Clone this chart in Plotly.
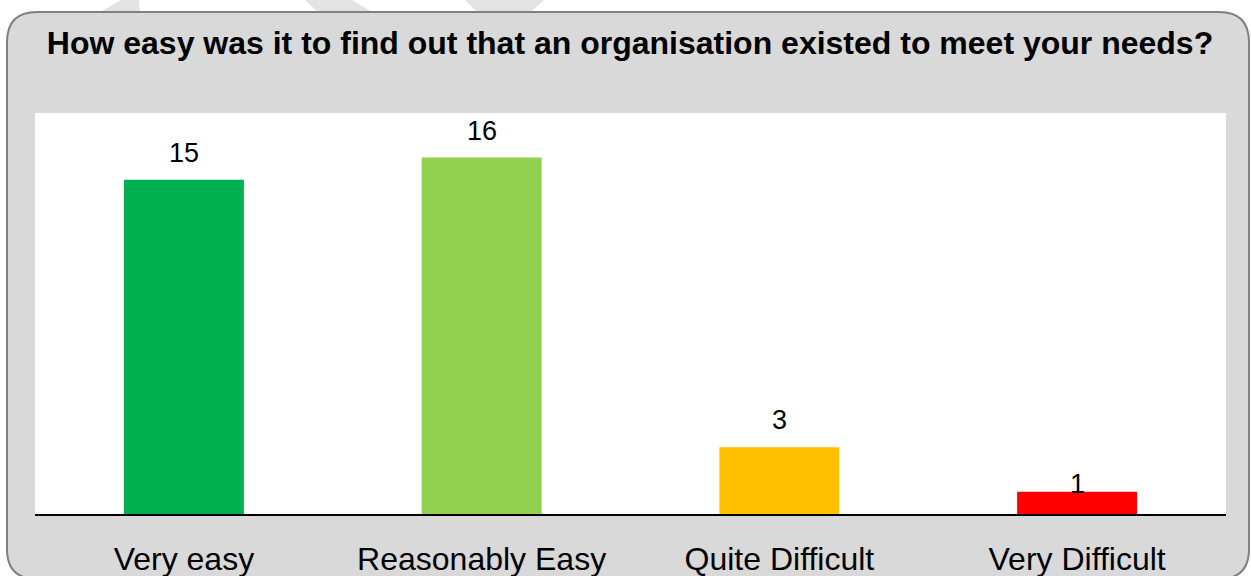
import plotly.graph_objects as go

categories = ["Very easy", "Reasonably Easy", "Quite Difficult", "Very Difficult"]
counts = [15, 16, 3, 1]
bar_colors = ["#00b050", "#92d050", "#ffc000", "#ff0000"]
label_shift = [10, 10, 10, -9]
title_text = "How easy was it to find out that an organisation existed to meet your needs?"

W, H = 1251, 576
L, R, T, B = 35, 25, 113, 62
pw, ph = W - L - R, H - T - B


def px(x):
    return (x - L) / pw


def py(y):
    return (H - B - y) / ph


fig = go.Figure()
fig.add_trace(go.Bar(
    x=categories, y=counts, marker=dict(color=bar_colors, line=dict(width=0)),
    hoverinfo="x+y", showlegend=False,
))

for c, v, s in zip(categories, counts, label_shift):
    fig.add_annotation(x=c, y=v, text=str(v), showarrow=False, yanchor="bottom",
                       yshift=s, font=dict(family="Liberation Sans, Arial", size=27, color="#000000"))

shapes = []
# faint watermark fragments above the panel
for poly in [[(100, 12), (121, 0), (139, 0), (140, 12)],
             [(305, 0), (352, 0), (372, 12), (318, 12)],
             [(465, 0), (544, 0), (531, 12), (477, 12)]]:
    path = "M " + " L ".join(f"{px(a)},{py(b)}" for a, b in poly) + " Z"
    shapes.append(dict(type="path", xref="paper", yref="paper", path=path,
                       fillcolor="#e3e3e3", line=dict(width=0), layer="below"))

# rounded grey panel
x0, x1, y0, y1, r = 7, 1249, 12, 579, 30
rx, ry = r / pw, r / ph
X0, X1, Y0, Y1 = px(x0), px(x1), py(y0), py(y1)
panel = (f"M {X0+rx},{Y0} L {X1-rx},{Y0} Q {X1},{Y0} {X1},{Y0-ry} "
         f"L {X1},{Y1+ry} Q {X1},{Y1} {X1-rx},{Y1} L {X0+rx},{Y1} "
         f"Q {X0},{Y1} {X0},{Y1+ry} L {X0},{Y0-ry} Q {X0},{Y0} {X0+rx},{Y0} Z")
shapes.append(dict(type="path", xref="paper", yref="paper", path=panel,
                   fillcolor="#d9d9d9", line=dict(color="#808080", width=2), layer="below"))
# white plot area
shapes.append(dict(type="rect", xref="paper", yref="paper", x0=0, x1=1, y0=0, y1=1,
                   fillcolor="#ffffff", line=dict(width=0), layer="below"))

fig.update_layout(
    width=W, height=H,
    margin=dict(l=L, r=R, t=T, b=B, pad=0, autoexpand=False),
    paper_bgcolor="#ffffff", plot_bgcolor="rgba(0,0,0,0)",
    bargap=0.597,
    shapes=shapes,
    title=dict(text=f"<b>{title_text}</b>", x=(48 + 1212) / 2 / W, xanchor="center",
               y=1 - 43 / H, yanchor="middle", yref="container",
               font=dict(family="Liberation Sans, Arial", size=32, color="#000000")),
    xaxis=dict(showline=True, linecolor="#000000", linewidth=2, showgrid=False,
               ticks="", ticklabelstandoff=16, zeroline=False, automargin=False,
               tickfont=dict(family="Liberation Sans, Arial", size=32, color="#000000")),
    yaxis=dict(range=[0, 18], visible=False, showgrid=False, zeroline=False, automargin=False),
)

fig.write_html("out.html", config={"displayModeBar": False},
               post_script="document.body.style.margin='0';document.body.style.overflow='hidden';")
